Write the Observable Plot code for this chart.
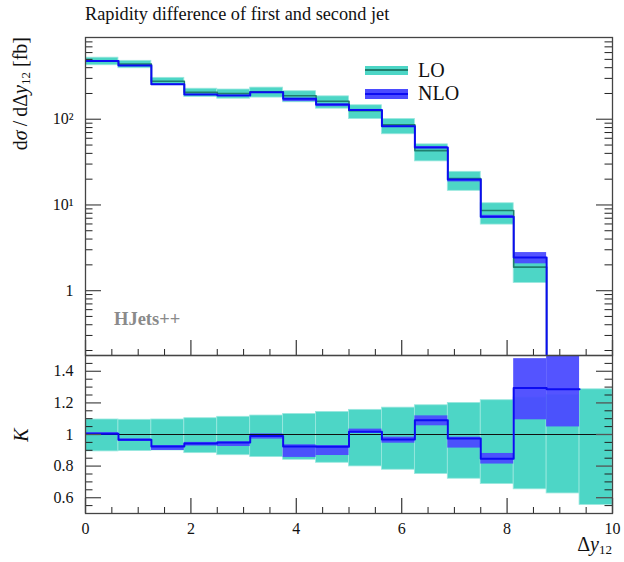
<!DOCTYPE html>
<html><head><meta charset="utf-8">
<script src="https://cdn.jsdelivr.net/npm/d3@7"></script>
<script src="https://cdn.jsdelivr.net/npm/@observablehq/plot@0.6"></script>
<style>
body{margin:0;background:#fff;}
#wrap{position:relative;width:624px;height:562px;font-family:"Liberation Serif",serif;color:#111;overflow:hidden;}
#wrap svg{position:absolute;left:0;overflow:visible;background:none;}
#wrap svg text{font-family:"Liberation Serif",serif;}
.abs{position:absolute;white-space:nowrap;}
.rot{transform-origin:0 0;}
</style></head><body><div id="wrap"></div>
<script>
// ---- data ----
const edges = [0, 0.625, 1.25, 1.875, 2.5, 3.125, 3.75, 4.375, 5, 5.625, 6.25, 6.875, 7.5, 8.125, 8.75, 9.375, 10];
// d sigma / d Delta y12 [fb]
const loXsec  = [478, 440, 278, 206, 200, 209, 188, 162, 126, 86, 43, 20.3, 8.6, 1.88, 0.093, 0.02];
const nloXsec = [480, 425, 257, 194, 190, 207, 174, 149, 128, 83, 46.9, 19.8, 7.3, 2.43, 0.12, null];
// ratio panel (relative to LO)
const loBandLow   = [0.893, 0.895, 0.899, 0.882, 0.869, 0.857, 0.840, 0.821, 0.798, 0.777, 0.750, 0.720, 0.686, 0.653, 0.627, 0.554];
const loBandHigh  = [1.095, 1.093, 1.095, 1.103, 1.112, 1.120, 1.130, 1.143, 1.156, 1.170, 1.185, 1.200, 1.217, 1.234, 1.250, 1.286];
const kNlo        = [1.004, 0.966, 0.924, 0.943, 0.949, 0.990, 0.924, 0.922, 1.017, 0.968, 1.090, 0.975, 0.846, 1.295, 1.286, null];
const nloBandLow  = [0.996, 0.956, 0.899, 0.927, 0.924, 0.971, 0.855, 0.867, 1.008, 0.945, 1.055, 0.914, 0.813, 1.093, 1.048, null];
const nloBandHigh = [1.012, 0.972, 0.930, 0.950, 0.953, 1.004, 0.935, 0.930, 1.034, 0.983, 1.118, 0.983, 0.880, 1.480, 1.550, null];
// axes
const xTicks = [0, 2, 4, 6, 8, 10];
const xTickLabels = ["0", "2", "4", "6", "8", "10"];
const yTicksTop = [1, 10, 100];
const yTickLabelsTop = ["1", "10\u00B9", "10\u00B2"];
const kTicks = [0.6, 0.8, 1, 1.2, 1.4];
const kTickLabels = ["0.6", "0.8", "1", "1.2", "1.4"];
const seriesNames = ["LO", "NLO"];

// ---- styles ----
const TEAL = "#4dd6c6", TEAL_EDGE = "#9be8df", TEAL_LINE = "#1f7f6e";
const BLUE_BAND = "#4b4bff", BLUE_LINE = "#0c0cf2";
const FONT = "Liberation Serif";

const bins = edges.slice(0, -1).map((x1, i) => ({
  x1, x2: edges[i + 1], lo: loXsec[i], nlo: nloXsec[i],
  loLow: loBandLow[i], loHigh: loBandHigh[i],
  k: kNlo[i], nLow: nloBandLow[i], nHigh: nloBandHigh[i]
}));
const nloBins = bins.filter(d => d.k != null);
function stepPts(arr, key) {
  const pts = arr.map(d => ({x: d.x1, y: d[key]}));
  const last = arr[arr.length - 1];
  pts.push({x: last.x2, y: last[key]});
  return pts;
}
const W = 624, ML = 85, MR = 12;
const FW = W - ML - MR;
const TOP_Y0 = 37, TOP_Y1 = 355, RAT_Y1 = 513;
const TOP_H = TOP_Y1 - TOP_Y0, RAT_H = RAT_Y1 - TOP_Y1;

// minor ticks
const xMinor = d3.range(0, 10.001, 0.5).filter(v => !xTicks.includes(v));
const logMinor = [];
for (const dec of [0.1, 1, 10, 100]) for (let m = 2; m <= 9; m++) { const v = m * dec; if (v > 0.175 && v < 900) logMinor.push(v); }
const kMinor = d3.range(0.5, 1.5001, 0.05).map(v => +v.toFixed(2)).filter(v => !kTicks.some(t => Math.abs(t - v) < 1e-6) && v > 0.5 && v < 1.5);

function yTickMarks(major, minor) {
  return [
    Plot.tickY(minor, {y: d => d, insetRight: FW - 7.5, stroke: "#222", strokeWidth: 1}),
    Plot.tickY(minor, {y: d => d, insetLeft: FW - 7.5, stroke: "#222", strokeWidth: 1}),
    Plot.tickY(major, {y: d => d, insetRight: FW - 16, stroke: "#555", strokeWidth: 1.3}),
    Plot.tickY(major, {y: d => d, insetLeft: FW - 16, stroke: "#555", strokeWidth: 1.3})
  ];
}
function xTickMarksBottom(H) {
  return [
    Plot.tickX(xMinor, {x: d => d, insetTop: H - 6, stroke: "#222", strokeWidth: 1}),
    Plot.tickX(xTicks, {x: d => d, insetTop: H - 15, stroke: "#444", strokeWidth: 1.3})
  ];
}

const topPlot = Plot.plot({
  width: W, height: TOP_Y1 + 5, marginLeft: ML, marginRight: MR, marginTop: TOP_Y0, marginBottom: 5,
  style: {fontFamily: FONT, background: "transparent", overflow: "visible"},
  x: {domain: [0, 10], axis: null},
  y: {type: "log", domain: [0.175, 900], axis: null},
  marks: [
    Plot.rect(bins, {x1: "x1", x2: "x2", y1: d => d.lo * d.loLow, y2: d => d.lo * d.loHigh, fill: TEAL, stroke: TEAL_EDGE, strokeWidth: 0.8, clip: true}),
    Plot.rect(nloBins, {x1: "x1", x2: "x2", y1: d => d.lo * d.nLow, y2: d => d.lo * d.nHigh, fill: BLUE_BAND, fillOpacity: 0.95, clip: true}),
    Plot.line(stepPts(bins.slice(0, 15), "lo"), {x: "x", y: "y", curve: "step-after", stroke: TEAL_LINE, strokeWidth: 1.6, clip: true}),
    Plot.line(stepPts(nloBins, "nlo"), {x: "x", y: "y", curve: "step-after", stroke: BLUE_LINE, strokeWidth: 2, clip: true}),
    ...yTickMarks(yTicksTop, logMinor),
    ...xTickMarksBottom(TOP_H),
    Plot.axisY(yTicksTop, {tickSize: 0, tickPadding: 12, fontSize: 16, fontFamily: FONT, tickFormat: d => yTickLabelsTop[yTicksTop.indexOf(d)], label: null, fill: "#111"}),
    Plot.frame({stroke: "#444", strokeWidth: 1.3})
  ]
});

const ratioPlot = Plot.plot({
  width: W, height: 562 - (TOP_Y1 - 10), marginLeft: ML, marginRight: MR, marginTop: 10, marginBottom: 562 - RAT_Y1,
  style: {fontFamily: FONT, background: "transparent", overflow: "visible"},
  x: {domain: [0, 10], axis: null},
  y: {domain: [0.5, 1.5], axis: null},
  marks: [
    Plot.rect(bins, {x1: "x1", x2: "x2", y1: "loLow", y2: "loHigh", fill: TEAL, stroke: TEAL_EDGE, strokeWidth: 0.8, clip: true}),
    Plot.rect(nloBins, {x1: "x1", x2: "x2", y1: "nLow", y2: "nHigh", fill: BLUE_BAND, fillOpacity: 0.95, clip: true}),
    Plot.ruleY([1], {stroke: "#111", strokeWidth: 1.1}),
    Plot.line(stepPts(nloBins, "k"), {x: "x", y: "y", curve: "step-after", stroke: BLUE_LINE, strokeWidth: 2, clip: true}),
    ...yTickMarks(kTicks, kMinor),
    ...xTickMarksBottom(RAT_H),
    Plot.axisY(kTicks, {tickSize: 0, tickPadding: 12, fontSize: 16, fontFamily: FONT, tickFormat: d => kTickLabels[kTicks.indexOf(d)], label: null, fill: "#111"}),
    Plot.axisX(xTicks, {tickSize: 0, tickPadding: 9, fontSize: 16, fontFamily: FONT, tickFormat: d => xTickLabels[xTicks.indexOf(d)], label: null, fill: "#111"}),
    Plot.frame({stroke: "#444", strokeWidth: 1.3})
  ]
});

const wrap = document.getElementById("wrap");
topPlot.style.top = "0px";
ratioPlot.style.top = (TOP_Y1 - 10) + "px";
wrap.appendChild(ratioPlot);
wrap.appendChild(topPlot);

function addHTML(html) { wrap.insertAdjacentHTML("beforeend", html); }
// title
addHTML(`<div class="abs" style="left:85px;top:4px;font-size:18.3px;">Rapidity difference of first and second jet</div>`);
// y title (top)
addHTML(`<div class="abs rot" style="left:8px;top:37px;font-size:20px;line-height:24px;transform:rotate(-90deg) translateX(-100%);">d<i>σ</i>&thinsp;/&thinsp;dΔ<i>y</i><sub style="font-size:13px;vertical-align:-3px">12</sub> [fb]</div>`);
// y title (ratio)
addHTML(`<div class="abs rot" style="left:9px;top:434.7px;font-size:20px;line-height:24px;transform:rotate(-90deg) translateX(-50%);"><i>K</i></div>`);
// x title
addHTML(`<div class="abs" style="right:12px;top:533px;font-size:20px;">Δ<i>y</i><sub style="font-size:13px;vertical-align:-3px">12</sub></div>`);
// HJets++
addHTML(`<div class="abs" style="left:114px;top:309px;font-size:18.5px;font-weight:bold;color:#8a8a8a;">HJets++</div>`);
// legend
const legendItems = [
  {name: seriesNames[0], band: TEAL, line: TEAL_LINE, top: 65.7},
  {name: seriesNames[1], band: BLUE_BAND, line: BLUE_LINE, top: 89.3}
];
for (const it of legendItems) {
  addHTML(`<div class="abs" style="left:365px;top:${it.top}px;width:43px;height:9.5px;background:${it.band};"><div style="position:absolute;left:0;right:0;top:3.8px;height:2px;background:${it.line};"></div></div>`);
  addHTML(`<div class="abs" style="left:418px;top:${it.top - 8}px;font-size:20px;line-height:24px;">${it.name}</div>`);
}
</script>
</body></html>
